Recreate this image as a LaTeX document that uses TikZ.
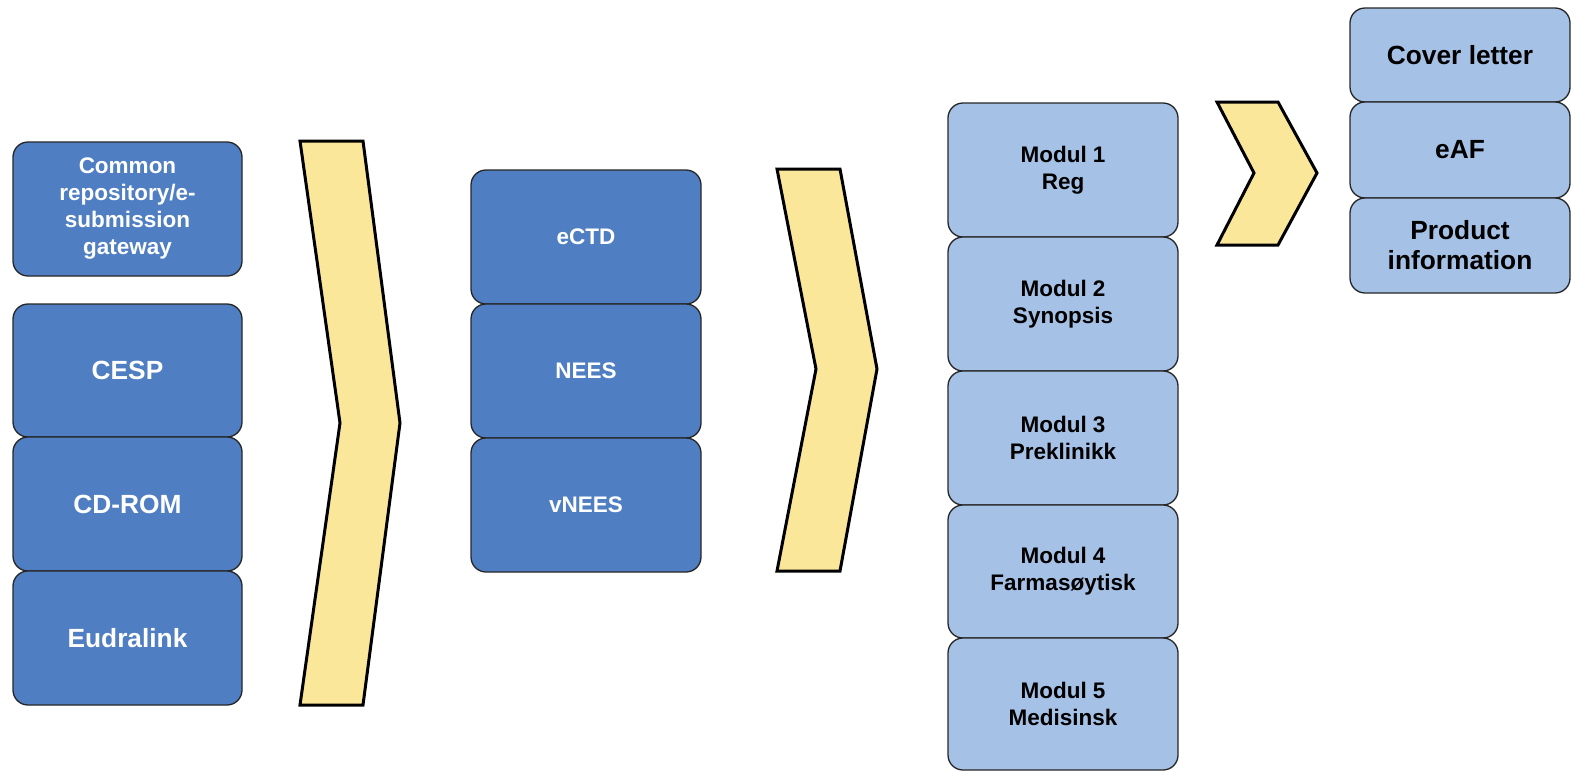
\documentclass[tikz,border=0pt]{standalone}
\usepackage{fontspec}
\setmainfont{Liberation Sans}
\definecolor{dkblue}{HTML}{4F7FC2}
\definecolor{ltblue}{HTML}{A6C1E6}
\definecolor{chev}{HTML}{FAE799}
\tikzset{
  box/.style={draw=black!85, line width=1.3pt, rounded corners=15pt, inner sep=0pt, align=center,
    font=\fontsize{22.5}{27}\selectfont\bfseries},
  bigtext/.style={font=\fontsize{26.3}{30}\selectfont\bfseries},
  dkbox/.style={box, fill=dkblue, text=white},
  ltbox/.style={box, fill=ltblue, text=black},
  chevron/.style={draw=black, line width=3pt, fill=chev, line join=miter}
}
\begin{document}
\begin{tikzpicture}[x=1pt, y=-1pt]
\useasboundingbox (0,0) rectangle (1573,772);
% left column
\node[dkbox, minimum width=229pt, minimum height=134pt] (cr) at (127.5,209) {Common\\repository/e-\\submission\\gateway};
\node[dkbox, bigtext, minimum width=229pt, minimum height=133pt] (cesp) at (127.5,370.5) {CESP};
\node[dkbox, bigtext, minimum width=229pt, minimum height=134pt] (cd) at (127.5,504) {CD-ROM};
\node[dkbox, bigtext, minimum width=229pt, minimum height=134pt] (eu) at (127.5,638) {Eudralink};
% chevron 1
\draw[chevron] (300,141) -- (363,141) -- (400,423) -- (363,705) -- (300,705) -- (340,423) -- cycle;
% middle column
\node[dkbox, minimum width=230pt, minimum height=134pt] (ectd) at (586,237) {eCTD};
\node[dkbox, minimum width=230pt, minimum height=134pt] (nees) at (586,371) {NEES};
\node[dkbox, minimum width=230pt, minimum height=134pt] (vnees) at (586,505) {vNEES};
% chevron 2
\draw[chevron] (777,169) -- (840,169) -- (877,369) -- (840,571) -- (777,571) -- (816,369) -- cycle;
% modules
\node[ltbox, minimum width=230pt, minimum height=134pt] (m1) at (1063,170) {Modul 1\\Reg};
\node[ltbox, minimum width=230pt, minimum height=134pt] (m2) at (1063,304) {Modul 2\\Synopsis};
\node[ltbox, minimum width=230pt, minimum height=134pt] (m3) at (1063,438) {Modul 3\\Preklinikk};
\node[ltbox, minimum width=230pt, minimum height=133pt] (m4) at (1063,571.5) {Modul 4\\Farmasøytisk};
\node[ltbox, minimum width=230pt, minimum height=132pt] (m5) at (1063,704) {Modul 5\\Medisinsk};
% chevron 3
\draw[chevron] (1217,102) -- (1278,102) -- (1317,173) -- (1278,245) -- (1217,245) -- (1254,173) -- cycle;
% far right
\node[ltbox, bigtext, minimum width=220pt, minimum height=94pt] (cl) at (1460,55) {Cover letter};
\node[ltbox, bigtext, minimum width=220pt, minimum height=96pt] (eaf) at (1460,150) {eAF};
\node[ltbox, bigtext, minimum width=220pt, minimum height=95pt] (pi) at (1460,245.5) {Product\\information};
\end{tikzpicture}
\end{document}
